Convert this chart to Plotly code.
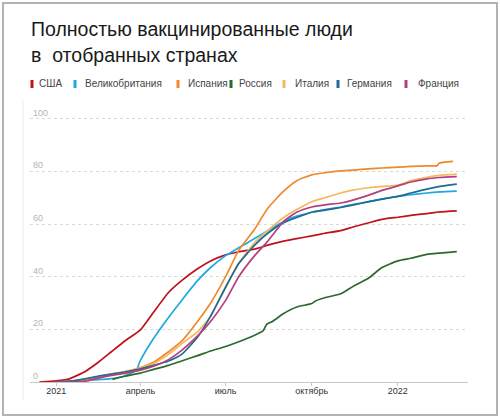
import plotly.graph_objects as go

# даты (1-е и 15-е число месяца)
dates = ["2021-01-01", "2021-01-15", "2021-02-01", "2021-02-15", "2021-03-01", "2021-03-15",
         "2021-04-01", "2021-04-15", "2021-05-01", "2021-05-15", "2021-06-01", "2021-06-15",
         "2021-07-01", "2021-07-15", "2021-08-01", "2021-08-15", "2021-09-01", "2021-09-15",
         "2021-10-01", "2021-10-15", "2021-11-01", "2021-11-15", "2021-12-01", "2021-12-15",
         "2022-01-01", "2022-01-15", "2022-02-01", "2022-02-15", "2022-03-05"]

usa_dates = ["2020-12-14"] + dates
usa = [0, 0.4, 1.2, 4, 7.5, 11.5, 15.5, 19.8, 26.5, 34, 38.5, 43, 46, 48.3, 49.5, 50.5, 52,
       53.5, 54.5, 55.5, 56.5, 57.5, 59, 60.5, 61.8, 62.6, 63.3, 64, 64.6, 65]

uk_dates = ["2021-01-01", "2021-01-15", "2021-02-01", "2021-02-15", "2021-03-01", "2021-03-15",
            "2021-03-28", "2021-03-31", "2021-04-15", "2021-05-01", "2021-05-15", "2021-06-01",
            "2021-06-15", "2021-07-01", "2021-07-15", "2021-08-01", "2021-08-15", "2021-09-01",
            "2021-09-15", "2021-10-01", "2021-10-15", "2021-11-01", "2021-11-15", "2021-12-01",
            "2021-12-15", "2022-01-01", "2022-01-15", "2022-02-01", "2022-02-15", "2022-03-05"]
uk = [0.1, 0.3, 0.7, 0.9, 1.3, 2.3, 4.5, 7.5, 16.5, 24.5, 31, 38.5, 43.5, 48, 51, 54.5, 57.5,
      61, 63, 64.5, 65.5, 66.5, 67.5, 68.5, 69.5, 70.5, 71.2, 71.8, 72.2, 72.5]

spain_dates = dates[:-2] + ["2022-02-12", "2022-02-14", "2022-03-01"]
spain = [0, 0.2, 1, 2, 3, 3.8, 5.5, 7.5, 11.5, 15.5, 23, 30, 40, 50, 58, 66, 72.5, 76.5, 78.7,
         79.5, 80.2, 80.5, 81, 81.3, 81.6, 81.9, 82.1, 82.2, 83.1, 83.8]

russia_dates = ["2021-03-02", "2021-03-15", "2021-04-01", "2021-04-15", "2021-05-01", "2021-05-15",
                "2021-06-01", "2021-06-15", "2021-07-01", "2021-07-15", "2021-08-01", "2021-08-10",
                "2021-08-14", "2021-08-20", "2021-09-01", "2021-09-15", "2021-10-01", "2021-10-05",
                "2021-10-15", "2021-11-01", "2021-11-15", "2021-12-01", "2021-12-15", "2022-01-01",
                "2022-01-15", "2022-02-01", "2022-02-15", "2022-03-05"]
russia = [1, 2.2, 3.4, 4.8, 6.3, 8, 10, 11.8, 13.5, 15.3, 17.8, 19.4, 22, 23, 26, 28.5, 29.8,
          30.8, 32, 33.5, 36.5, 39.5, 43.5, 46, 47, 48.5, 49, 49.5]

italy = [0, 0.1, 0.8, 2, 3, 4, 5.3, 7, 10.5, 14.5, 19, 25, 36, 45, 53, 57.5, 62.5, 65.5, 68.5,
         70, 71.8, 73, 73.8, 74.3, 74.8, 76.5, 77.8, 78.5, 79]

germany = [0, 0.3, 1.2, 2.2, 3, 3.8, 5, 6.3, 8, 10.5, 17, 25, 36, 45, 52, 56.5, 60.5, 62.5, 64.5,
           65.3, 66.3, 67.3, 68.5, 69.5, 70.5, 71.8, 73.3, 74.3, 75.2]

france = [0, 0, 0.3, 1.5, 2.5, 3.3, 4.5, 6, 8.5, 12, 17.5, 23, 31, 40, 48, 53.5, 61, 64.5, 66.5,
          67.3, 68, 69.2, 71, 72.8, 74.5, 76, 77.2, 77.7, 78]

series = [
    ("США", usa_dates, usa, "#c0121b"),
    ("Великобритания", uk_dates, uk, "#20a9e1"),
    ("Испания", spain_dates, spain, "#f0892a"),
    ("Россия", russia_dates, russia, "#2b6a2c"),
    ("Италия", dates, italy, "#f4b95e"),
    ("Германия", dates, germany, "#1f6b93"),
    ("Франция", dates, france, "#b2407f"),
]

tick_vals = ["2021-01-01", "2021-04-01", "2021-07-01", "2021-10-01", "2022-01-01"]
tick_text = ["2021", "апрель", "июль", "октябрь", "2022"]

# позиции легенды в пикселях (маркер, начало текста)
legend_px = [(32, 37), (75, 83), (178, 186), (231, 237), (284, 293), (338, 345), (406, 416)]

# область графика: 0 на y=382, 100 на y=119, сверху место под подпись "100"
L, W = 30, 438
T, H = 103, 279


def px_x(px):
    return (px - L) / W


def px_y(py):
    return (T + H - py) / H


data = []
for name, d, v, c in series:
    data.append(go.Scatter(x=d, y=v, name=name, mode="lines",
                           line=dict(color=c, width=1.7, shape="spline", smoothing=0.5),
                           showlegend=False))

annotations = [
    dict(text="Полностью вакцинированные люди", x=px_x(29), y=px_y(29), xref="paper", yref="paper",
         xanchor="left", yanchor="middle", showarrow=False,
         font=dict(size=19.5, color="#1a1a1a", family="Liberation Sans")),
    dict(text="в  отобранных странах", x=px_x(29), y=px_y(55), xref="paper", yref="paper",
         xanchor="left", yanchor="middle", showarrow=False,
         font=dict(size=19.5, color="#1a1a1a", family="Liberation Sans")),
]
shapes = []
for (name, d, v, c), (mx, tx) in zip(series, legend_px):
    annotations.append(dict(text=name, x=px_x(tx), y=px_y(84), xref="paper", yref="paper",
                            xanchor="left", yanchor="middle", showarrow=False,
                            font=dict(size=10, color="#444444", family="Liberation Sans")))
    shapes.append(dict(type="rect", xref="paper", yref="paper", x0=px_x(mx - 1.5), x1=px_x(mx + 1.5),
                       y0=px_y(88), y1=px_y(80), fillcolor=c, line=dict(width=0)))

# рамка и тонкая вертикальная линия слева
shapes.append(dict(type="rect", xref="paper", yref="paper", x0=px_x(3), x1=px_x(497),
                   y0=px_y(415), y1=px_y(3), line=dict(color="#b3b3b3", width=2)))
shapes.append(dict(type="line", xref="paper", yref="paper", x0=px_x(23), x1=px_x(23),
                   y0=px_y(400), y1=px_y(100), line=dict(color="#ececec", width=1)))

layout = go.Layout(
    width=500, height=418,
    margin=dict(l=L, r=500 - L - W, t=T, b=418 - T - H),
    paper_bgcolor="white", plot_bgcolor="white",
    font=dict(family="Liberation Sans", size=9, color="#333333"),
    xaxis=dict(range=["2020-12-04", "2022-03-17"], tickvals=tick_vals, ticktext=tick_text,
               showgrid=False, showline=True, linecolor="#c8c8c8", linewidth=1,
               ticks="outside", ticklen=3, tickcolor="#c8c8c8", ticklabelstandoff=-3,
               tickfont=dict(size=9, color="#333333")),
    yaxis=dict(range=[0, 106], tickvals=[0, 20, 40, 60, 80, 100], showgrid=True,
               gridcolor="#d9d9d9", griddash="dot", zeroline=False,
               ticklabelposition="inside top", tickfont=dict(size=9, color="#b5b5b5")),
    annotations=annotations, shapes=shapes,
)

fig = go.Figure(data=data, layout=layout)
fig.write_html("out.html", config={"displayModeBar": False},
               post_script="document.body.style.margin = '0px';")
